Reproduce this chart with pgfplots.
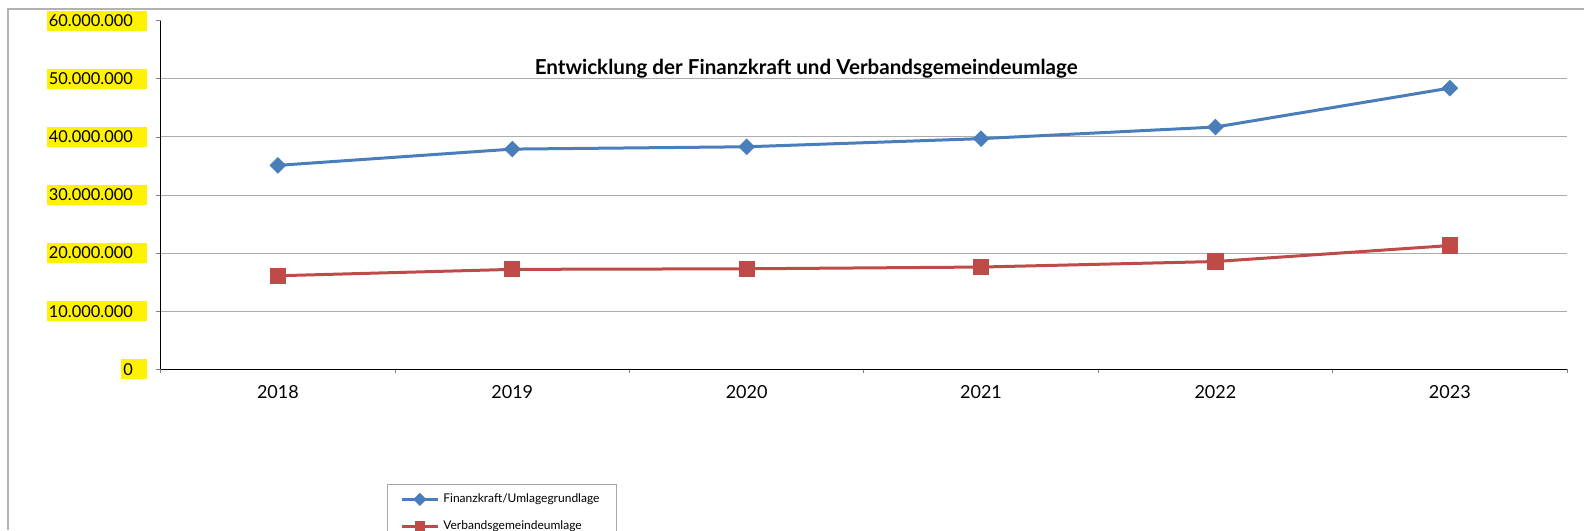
\documentclass[border=0pt]{standalone}
\usepackage{fontspec}
\setmainfont{Lato}
\usepackage{pgfplots}
\pgfplotsset{compat=1.18}
\definecolor{fkblue}{HTML}{4A7EBB}
\definecolor{vgred}{HTML}{BE4B48}
\begin{document}
\begin{tikzpicture}
% 1 px of the reference = 0.5pt; axis corner at (0,0)
\useasboundingbox (-80.35pt,-80.35pt) rectangle (711.65pt,184.65pt);
\draw[gray!60, line width=0.6pt] (-76.35pt,-80.35pt) -- (-76.35pt,180.15pt) -- (711.65pt,180.15pt);
\begin{axis}[
    at={(0,0)}, anchor=south west,
    scale only axis,
    width=703.15pt, height=174.3pt,
    xmin=-0.5, xmax=5.5,
    ymin=0, ymax=60000000,
    axis lines=left,
    axis line style={-, black, line width=0.6pt},
    tick align=outside,
    xtick={0,...,5},
    xticklabels={2018,2019,2020,2021,2022,2023},
    major x tick style={draw=none},
    minor xtick={-0.5,0.5,...,5.5},
    minor x tick style={gray, line width=0.4pt},
    minor tick length=2pt,
    major tick length=2.5pt,
    ytick={0,10000000,...,50000000},
    extra y ticks={60000000},
    extra y tick style={grid=none},
    y tick style={gray, line width=0.4pt},
    ymajorgrids=true,
    grid style={gray!65, line width=0.5pt},
    scaled y ticks=false,
    /pgf/number format/.cd, fixed, precision=0, 1000 sep={.}, assume math mode=true,
    /pgfplots/.cd,
    yticklabel={\pgfmathprintnumber{\tick}\hspace*{6.25pt}},
    yticklabel style={fill=yellow, inner xsep=1pt, inner ysep=0pt, minimum height=10pt,
        xshift=-4pt, font=\fontsize{8.2}{10}\selectfont},
    xticklabel style={font=\fontsize{9}{10}\selectfont, yshift=-2pt},
    title={\textbf{Entwicklung der Finanzkraft und Verbandsgemeindeumlage}},
    title style={at={(axis description cs:0.459,0.847)}, anchor=base, yshift=-6pt,
        font=\fontsize{10.3}{12}\selectfont},
    legend style={at={(axis description cs:0.1609,-0.329)}, anchor=north west,
        draw=gray!70, font=\fontsize{6}{7}\selectfont, row sep=3.5pt,
        inner xsep=6.5pt, inner ysep=2.5pt},
    legend cell align=left,
    legend image code/.code={
        \draw[#1, line width=1.5pt, mark size=1.6pt, mark repeat=2, mark phase=2]
            plot coordinates {(0pt,0pt) (9pt,0pt) (18pt,0pt)};
    },
]
\addplot[fkblue, line width=1.5pt, mark=square*, mark size=2.2pt,
    mark options={rotate=45, solid}] coordinates {
    (0,35100000) (1,37900000) (2,38300000) (3,39700000) (4,41700000) (5,48400000)};
\addplot[vgred, line width=1.5pt, mark=square*, mark size=3.3pt,
    mark options={solid}] coordinates {
    (0,16100000) (1,17200000) (2,17300000) (3,17600000) (4,18550000) (5,21300000)};
\legend{Finanzkraft/Umlagegrundlage, Verbandsgemeindeumlage}
\end{axis}
\end{tikzpicture}
\end{document}
